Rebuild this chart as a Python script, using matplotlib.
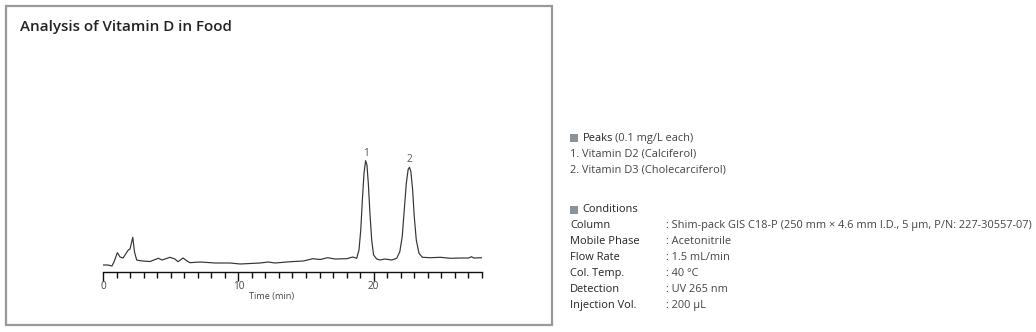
import matplotlib
matplotlib.use("Agg")
import matplotlib.pyplot as plt
from matplotlib.patches import Rectangle

# chromatogram trace (time in min, detector response in arbitrary units)
czas = [0.0, 0.35, 0.64, 0.79, 1.04, 1.24, 1.46, 1.85, 1.98, 2.18, 2.31, 2.47,
        2.87, 3.46, 4.07, 4.35, 4.93, 5.3, 5.53, 5.9, 6.2, 6.41, 7.16, 8.27,
        9.39, 10.13, 10.87, 11.6, 12.2, 12.7, 13.85, 14.8, 15.5, 16.05, 16.6,
        17.13, 18.02, 18.46, 18.75, 18.92, 19.05, 19.17, 19.29, 19.41, 19.51,
        19.61, 19.73, 19.86, 20.0, 20.23, 20.47, 20.84, 21.34, 21.71, 21.94,
        22.12, 22.27, 22.42, 22.56, 22.66, 22.76, 22.89, 23.01, 23.16, 23.36,
        23.61, 24.2, 24.94, 25.68, 26.42, 27.04, 27.24, 27.41, 28.03]
odziv = [7, 7, 6, 10, 19.3, 15, 14, 22, 23, 34.7, 20, 12,
         11, 10.5, 13.7, 12, 14.7, 13, 10.3, 14, 11, 9.3, 10, 9,
         9, 8, 8.5, 9, 10, 9, 10.3, 11, 13.3, 12.5, 14.3,
         13, 13.3, 15, 13.7, 22, 42, 72, 98.7, 111.3, 107,
         88.7, 58.7, 32, 17, 13, 12, 13, 12, 13.7, 20.3,
         35.3, 62, 88.7, 102.7, 104.7, 100.3, 82, 55.3, 32, 18.7,
         14.7, 14.3, 14.7, 13.7, 14, 14, 15.3, 14, 14.3]

vrhovi = ["1", "2"]
vrhovi_t = [19.41, 22.66]
vrhovi_h = [111.3, 104.7]

glavni_tickovi = [0, 10, 20]
tick_labels = ["0", "10", "20"]
sporedni_tickovi = list(range(0, 29))

naslov = "Analysis of Vitamin D in Food"
peaks_info = ["1. Vitamin D2 (Calciferol)", "2. Vitamin D3 (Cholecarciferol)"]
uvjeti = ["Column", "Mobile Phase", "Flow Rate", "Col. Temp.", "Detection", "Injection Vol."]
vrijednosti = [": Shim-pack GIS C18-P (250 mm \u00d7 4.6 mm I.D., 5 \u03bcm, P/N: 227-30557-07)",
               ": Acetonitrile", ": 1.5 mL/min", ": 40 \u00b0C", ": UV 265 nm", ": 200 \u03bcL"]

W, H = 1036, 332
fig = plt.figure(figsize=(W / 100, H / 100), dpi=100)

def fx(px):
    return px / W

def fy(py):
    return 1 - py / H

# okvir oko kromatograma
fig.patches.append(Rectangle((fx(6), fy(325)), fx(546), 319 / H, transform=fig.transFigure,
                             fill=False, edgecolor="#999999", linewidth=1.6))
fig.text(fx(20), fy(27), naslov, fontsize=10.9, fontweight="semibold", family="Open Sans",
         color="#222222", va="center", ha="left")

ax = fig.add_axes([fx(103.3), fy(272), fx(378.4), 130 / H])
ax.plot(czas, odziv, color="#333333", linewidth=0.85)
ax.set_xlim(0, 28)
ax.set_ylim(0, 130)
for s in ["top", "right", "left"]:
    ax.spines[s].set_visible(False)
ax.spines["bottom"].set_color("#111111")
ax.spines["bottom"].set_linewidth(1.0)
ax.set_yticks([])
ax.set_xticks(glavni_tickovi)
ax.set_xticks(sporedni_tickovi, minor=True)
ax.set_xticklabels(tick_labels, fontsize=7.2, family="Open Sans", color="#444444")
ax.tick_params(axis="x", which="major", length=6.5, width=1.0, color="#111111", pad=0.3)
ax.tick_params(axis="x", which="minor", length=4.2, width=1.0, color="#111111")

for lab, t, h in zip(vrhovi, vrhovi_t, vrhovi_h):
    ax.annotate(lab, (t, h), xytext=(0, 5.5), textcoords="offset points", ha="center",
                va="center", fontsize=7.2, family="Open Sans", color="#555555")

fig.text(fx(272), fy(296), "Time (min)", fontsize=6.6, family="Open Sans",
         color="#444444", ha="center", va="center")

# uvjeti analize
txt = dict(fontsize=7.9, family="Open Sans", color="#222222", va="center", ha="left")
kvadrat = "#8a9399"
fig.patches.append(Rectangle((fx(570), fy(142)), fx(8), 8 / H, transform=fig.transFigure,
                             facecolor=kvadrat, edgecolor="none"))
fig.text(fx(582.7), fy(138.3), "Peaks", **txt)
fig.text(fx(615), fy(138.3), "(0.1 mg/L each)", **dict(txt, color="#444444"))
for i, s in enumerate(peaks_info):
    fig.text(fx(570), fy(154.3 + 15.5 * i), s, **dict(txt, color="#444444"))

fig.patches.append(Rectangle((fx(570), fy(214)), fx(8), 8 / H, transform=fig.transFigure,
                             facecolor=kvadrat, edgecolor="none"))
fig.text(fx(582.7), fy(210), "Conditions", **txt)
for i, (k, v) in enumerate(zip(uvjeti, vrijednosti)):
    y = fy(225.7 + 16.05 * i)
    fig.text(fx(570), y, k, **txt)
    fig.text(fx(666), y, v, **dict(txt, color="#444444"))

fig.savefig("out.png", dpi=100)
